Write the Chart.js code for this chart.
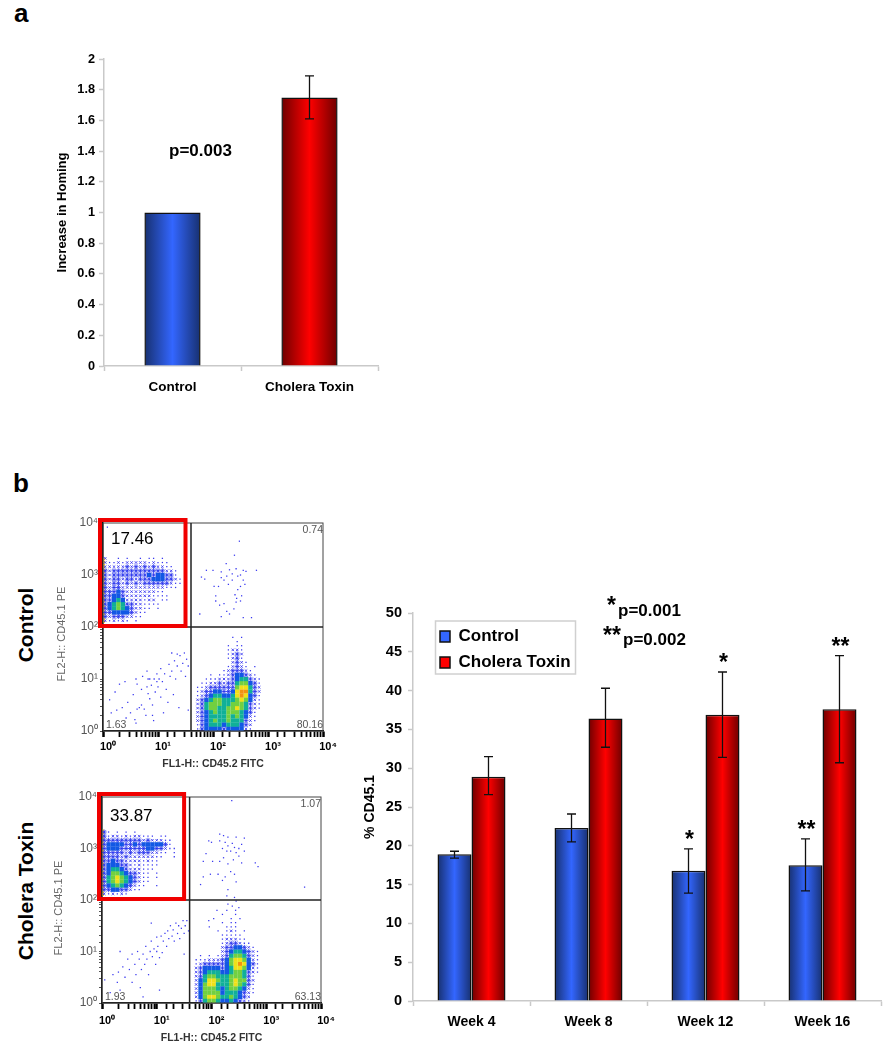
<!DOCTYPE html>
<html>
<head>
<meta charset="utf-8">
<script src="https://cdn.jsdelivr.net/npm/chart.js@4/dist/chart.umd.js"></script>
<style>
html, body { margin: 0; padding: 0; background: #fff; }
#page { position: relative; width: 891px; height: 1050px; overflow: hidden; font-family: "Liberation Sans", Arial, sans-serif; color: #000; }
canvas { position: absolute; }
.lab { position: absolute; white-space: nowrap; font-weight: bold; line-height: 1; }
.side { position: absolute; white-space: nowrap; font-weight: bold; font-size: 21px; line-height: 1; transform: translate(-50%, -50%) rotate(-90deg); }
.fl2 { font-weight: normal; font-size: 11px; color: #666; }
</style>
</head>
<body>
<div id="page">
  <canvas id="chartA" width="342" height="370" style="left:40px;top:40px"></canvas>
  <canvas id="flowControl" width="291" height="270" style="left:50px;top:505px"></canvas>
  <canvas id="flowToxin" width="291" height="270" style="left:48px;top:779px"></canvas>
  <canvas id="chartB" width="545" height="450" style="left:340px;top:595px"></canvas>

  <div class="lab" style="left:14px;top:0px;font-size:26px">a</div>
  <div class="lab" style="left:13px;top:470px;font-size:26px">b</div>
  <div class="side" style="left:25px;top:625px">Control</div>
  <div class="side" style="left:25px;top:891px">Cholera Toxin</div>
  <div class="side fl2" style="left:61px;top:634px">FL2-H:: CD45.1 PE</div>
  <div class="side fl2" style="left:58px;top:908px">FL2-H:: CD45.1 PE</div>
  <div class="lab" style="left:169px;top:142px;font-size:17px">p=0.003</div>
  <div class="lab" style="left:607px;top:594px;font-size:23px">*</div>
  <div class="lab" style="left:618px;top:602px;font-size:17px">p=0.001</div>
  <div class="lab" style="left:603px;top:624px;font-size:23px">**</div>
  <div class="lab" style="left:623px;top:631px;font-size:17px">p=0.002</div>
</div>

<script>
// panel a
const homingLabels = ['Control', 'Cholera Toxin'];
const homingValues = [1, 1.75];
const homingLow = [null, 1.61];
const homingHigh = [null, 1.89];

// panel b bars
const weekLabels = ['Week 4', 'Week 8', 'Week 12', 'Week 16'];
const controlValues = [18.9, 22.3, 16.8, 17.5];
const controlLow = [18.4, 20.5, 13.9, 14.2];
const controlHigh = [19.3, 24.1, 19.6, 20.9];
const toxinValues = [28.9, 36.4, 36.9, 37.6];
const toxinLow = [26.6, 32.7, 31.4, 30.7];
const toxinHigh = [31.5, 40.3, 42.4, 44.5];
const controlStars = ['', '', '*', '**'];
const toxinStars = ['', '', '*', '**'];

// flow plots: density, 0 = empty .. 8 = hottest.
// each row is one 0.08 decade step, top row first
const controlGatedRows = [
  '200101001011010000',
  '211212222212111000',
  '222223232323221100',
  '323333333333332210',
  '323333333343443310',
  '323323323334443321',
  '323323232333333211',
  '323322222222221110',
  '333432222222110000',
  '334432222221111000',
  '334542222122011000',
  '345653322111100000',
  '345654322110100000',
  '334444321100000000',
  '323332211000000000',
  '212121010000000000'
];
const controlMainRows = [
  '000000001010000',
  '000000000100000',
  '000000010110000',
  '000000012210000',
  '000000012320000',
  '000000012310000',
  '000000002321000',
  '000000012321010',
  '000000123332100',
  '000101123443210',
  '001112223455321',
  '011223233566431',
  '112333333677532',
  '123344334788532',
  '123455445787431',
  '234566555676421',
  '235666556665321',
  '235665566765321',
  '234565566654310',
  '234555565654210',
  '234565565553210',
  '134555455543200',
  '134444344442100'
];
const toxinGatedRows = [
  '310101010000000000',
  '312212122111011000',
  '333333333232221100',
  '344443343444443100',
  '344433333344332110',
  '333332323332211010',
  '333323222222110010',
  '334332222121100000',
  '344433212111100000',
  '345543222111000000',
  '346654332110100000',
  '356765432110100000',
  '356765432110000000',
  '345654321100100000',
  '334433211000000000',
  '212121000000000000'
];
const toxinMainRows = [
  '000000010100000',
  '000000100100000',
  '000010001010000',
  '000000101100000',
  '000100011100000',
  '000001012101000',
  '000000111110000',
  '000000122211000',
  '000000123321100',
  '000000233443210',
  '000000234554321',
  '010101235665321',
  '111222346776421',
  '123333346787431',
  '234444345776421',
  '234555445665321',
  '235665556665310',
  '245776556766320',
  '246775556765310',
  '246665456654210',
  '246666455543210',
  '246776556543200',
  '135665445432100'
];

// lone events, [log10 FL1, log10 FL2]
const controlSparse = [
  [2.48,3.65],[2.39,3.38],[2.24,3.22],[1.88,3.09],[2.0,3.09],[2.15,3.06],[2.42,3.12],[2.55,3.09],[2.6,3.07],[2.79,3.09],
  [2.3,3.1],[2.35,3.02],[2.25,2.98],[2.45,2.98],[2.5,3.0],[1.79,2.96],[1.85,2.92],[2.15,2.95],[2.2,2.9],[2.35,2.9],
  [2.55,2.9],[2.58,2.82],[2.1,2.78],[2.02,2.78],[2.28,2.82],[2.45,2.72],[2.5,2.78],[2.52,2.6],[2.4,2.62],[2.43,2.55],
  [2.5,2.5],[2.2,2.45],[2.12,2.42],[2.05,2.6],[2.05,2.5],[2.3,2.25],[2.25,2.3],[2.15,2.2],[2.55,2.18],[2.7,2.18],
  [1.76,2.25],[2.38,2.35],[2.42,2.48],[0.08,3.92],
  [.15,.35],[.22,.75],[.35,.45],[.4,.95],[.45,.55],[.5,.35],[.55,.7],[.58,.22],[.62,.42],[.66,.45],
  [.7,.5],[.75,.42],[.78,.3],[.8,.85],[.85,.62],[.9,.5],[.92,.2],[.95,.75],[.98,.95],[.6,1.0],
  [.62,.9],[.72,1.05],[.8,1.15],[.85,1.0],[.9,.3],[1.0,.85],[1.02,1.0],[1.05,.65],[.82,1.0],[.82,.72],
  [.88,.88],[.93,1.0],[.98,1.1],[1.05,1.2],[1.08,.95],[1.12,1.1],[1.15,.8],[1.18,.55],[1.2,1.28],[1.22,1.05],
  [1.25,1.15],[1.28,.7],[1.3,1.35],[1.32,1.0],[1.35,1.25],[1.38,.45],[1.4,1.45],[1.42,1.15],[1.45,1.3],[1.48,1.5],
  [1.5,1.05],[1.52,1.38],[1.55,1.25],[1.35,1.48],[1.25,1.5],[.3,.9],[.25,.4],[.12,.6],[.42,.25],[.7,.8],
  [1.1,.35],[.6,.15],[1.55,.4]
];
const toxinSparse = [
  [2.37,3.93],[2.15,3.28],[2.22,3.25],[2.3,3.22],[2.45,3.22],[2.6,3.2],[1.95,3.15],[2.0,3.12],[2.15,3.15],[2.25,3.12],
  [2.3,3.05],[2.38,3.1],[2.42,3.02],[2.5,3.0],[2.55,3.08],[2.6,2.95],[2.2,3.0],[2.28,2.95],[2.35,2.95],[2.45,2.92],
  [1.9,2.9],[1.85,2.75],[2.02,2.75],[2.15,2.75],[2.22,2.82],[2.3,2.7],[2.4,2.78],[2.5,2.85],[2.55,2.72],[2.8,2.72],
  [2.85,2.65],[2.35,2.55],[2.42,2.5],[2.25,2.45],[2.12,2.5],[1.98,2.5],[1.85,2.45],[1.8,2.3],[2.2,2.38],[2.45,2.35],
  [2.3,2.2],[3.7,2.25],[2.28,2.08],[2.42,2.05],[2.45,1.98],[2.3,1.92],[2.38,1.88],[2.5,1.85],[2.1,1.8],[1.95,1.6],
  [.05,.45],[.15,.2],[.2,.55],[.28,.4],[.3,.6],[.33,.25],[.38,.7],[.42,.5],[.47,.85],[.5,.65],
  [.55,.95],[.55,.4],[.6,.75],[.62,.55],[.65,1.0],[.68,.85],[.7,.3],[.72,.65],[.75,.95],[.78,.75],
  [.8,1.1],[.82,.85],[.85,.55],[.88,1.0],[.9,1.2],[.92,.9],[.95,1.05],[.98,.75],[1.0,1.0],[1.0,1.28],
  [1.02,1.1],[1.05,.88],[1.08,1.3],[1.1,.98],[1.12,1.2],[1.15,1.35],[1.18,1.1],[1.2,1.4],[1.22,1.25],[1.25,1.5],
  [1.28,1.3],[1.3,1.42],[1.32,1.2],[1.35,1.55],[1.38,1.35],[1.4,1.5],[1.42,1.25],[1.45,1.45],[1.48,1.6],[1.5,1.35],
  [1.52,1.5],[1.55,1.6],[1.58,1.4],[.9,1.55],[.33,1.0],[1.5,.95],[1.05,.25],[.75,.12]
];

// pile up against the left axis, log10 FL2
const controlEdge = [2.1,2.15,2.2,2.25,2.3,2.35,2.4,2.45,2.5,2.55,2.6,2.65,2.7,2.75,2.8,2.85,2.9,2.95,3.0,3.05,3.1,3.15,3.2,3.25,3.3];
const toxinEdge = [2.1,2.15,2.2,2.25,2.3,2.35,2.4,2.45,2.5,2.55,2.6,2.65,2.7,2.75,2.8,2.85,2.9,2.95,3.0,3.05,3.1,3.15,3.2,3.25,3.3,3.35];

const controlQuadrants = ['0.74', '1.63', '80.16'];
const toxinQuadrants = ['1.07', '1.93', '63.13'];
const decadeLabels = { 1: '10⁰', 10: '10¹', 100: '10²', 1000: '10³', 10000: '10⁴' };

Chart.defaults.font.family = '"Liberation Sans", Arial, sans-serif';
Chart.defaults.animation = false;
Chart.defaults.responsive = false;
Chart.defaults.plugins.legend.display = false;
Chart.defaults.plugins.tooltip.enabled = false;

const axisGray = '#c9c9c9';

// the side to side shading on the bars
const barShading = {
    id: 'barShading',
    beforeDatasetsDraw (chart) {
        const ctx = chart.ctx;
        chart.data.datasets.forEach((ds, d) => {
            chart.getDatasetMeta(d).data.forEach((bar, i) => {
                const c = ds.shade[i];
                const g = ctx.createLinearGradient(bar.x - bar.width / 2, 0, bar.x + bar.width / 2, 0);
                g.addColorStop(0, c[0]);
                g.addColorStop(0.5, c[1]);
                g.addColorStop(1, c[0]);
                bar.options = Object.assign({}, bar.options, { backgroundColor: g });
            });
        });
    }
};

const errorBars = {
    id: 'errorBars',
    afterDatasetsDraw (chart) {
        const ctx = chart.ctx, y = chart.scales.y;
        ctx.save();
        ctx.strokeStyle = '#111';
        ctx.lineWidth = 1.3;
        chart.data.datasets.forEach((ds, d) => {
            chart.getDatasetMeta(d).data.forEach((bar, i) => {
                if (ds.low[i] === null) return;
                const top = y.getPixelForValue(ds.high[i]), bottom = y.getPixelForValue(ds.low[i]);
                ctx.beginPath();
                ctx.moveTo(bar.x, top); ctx.lineTo(bar.x, bottom);
                ctx.moveTo(bar.x - 4.5, top); ctx.lineTo(bar.x + 4.5, top);
                ctx.moveTo(bar.x - 4.5, bottom); ctx.lineTo(bar.x + 4.5, bottom);
                ctx.stroke();
                if (ds.stars && ds.stars[i]) {
                    ctx.fillStyle = '#000';
                    ctx.font = 'bold 23px "Liberation Sans"';
                    ctx.textAlign = 'center';
                    ctx.fillText(ds.stars[i], bar.x + 1, top - 2);
                }
            });
        });
        ctx.restore();
    }
};

// legend sits inside the plot with a thin box round it
const legendBox = {
    id: 'legendBox',
    afterLayout (chart) {
        const l = chart.legend;
        l.left = 91; l.right = 236; l.top = 24; l.bottom = 200;
    },
    beforeDraw (chart) {
        const ctx = chart.ctx;
        ctx.save();
        ctx.strokeStyle = '#d0d0d0';
        ctx.lineWidth = 1.5;
        ctx.strokeRect(95.5, 26, 140, 53);
        ctx.restore();
    }
};

function barScales (yOpts, yTitle, tickFont, titleFont, titleInset) {
    return {
        x: {
            afterFit: s => { s.height = 44; },
            grid: { drawOnChartArea: false, offset: true, tickLength: 5, tickColor: axisGray, tickWidth: 1.5 },
            border: { color: axisGray, width: 1.5 },
            ticks: { color: '#000', font: { size: tickFont, weight: 'bold' }, padding: 8, maxRotation: 0 }
        },
        y: Object.assign({
            afterFit: s => { s.width = yOpts.axisWidth; },
            grid: { drawOnChartArea: false, tickLength: 5, tickColor: axisGray, tickWidth: 1.5 },
            border: { color: axisGray, width: 1.5 },
            title: { display: true, text: yTitle, color: '#000', font: { size: titleFont, weight: 'bold' }, padding: { top: titleInset, bottom: 0 } }
        }, yOpts.scale)
    };
}

new Chart(document.getElementById('chartA'), {
    type: 'bar',
    data: {
        labels: homingLabels,
        datasets: [{
            data: homingValues,
            low: homingLow,
            high: homingHigh,
            shade: [['#17306f', '#3366ff'], ['#6d0000', '#ff0000']],
            backgroundColor: ['#3366ff', '#ff0000'],
            borderColor: '#111',
            borderWidth: 1.5,
            barPercentage: 0.41,
            categoryPercentage: 1
        }]
    },
    options: {
        layout: { padding: { top: 19, right: 4 } },
        scales: barScales({
            axisWidth: 64,
            scale: {
                min: 0, max: 2,
                ticks: { stepSize: 0.2, color: '#000', font: { size: 12.7, weight: 'bold' }, padding: 4,
                    callback: v => String(+v.toFixed(1)) }
            }
        }, 'Increase in Homing', 13.5, 13, 15)
    },
    plugins: [barShading, errorBars]
});

new Chart(document.getElementById('chartB'), {
    type: 'bar',
    data: {
        labels: weekLabels,
        datasets: [{
            label: 'Control',
            data: controlValues,
            low: controlLow,
            high: controlHigh,
            stars: controlStars,
            shade: weekLabels.map(() => ['#17306f', '#3366ff']),
            backgroundColor: '#3366ff',
            borderColor: '#111',
            borderWidth: 1.5,
            barPercentage: 1,
            categoryPercentage: 0.581
        }, {
            label: 'Cholera Toxin',
            data: toxinValues,
            low: toxinLow,
            high: toxinHigh,
            stars: toxinStars,
            shade: weekLabels.map(() => ['#6d0000', '#ff0000']),
            backgroundColor: '#ff0000',
            borderColor: '#111',
            borderWidth: 1.5,
            barPercentage: 1,
            categoryPercentage: 0.581
        }]
    },
    options: {
        layout: { padding: { top: 18, right: 4 } },
        scales: barScales({
            axisWidth: 73,
            scale: {
                min: 0, max: 50,
                ticks: { stepSize: 5, color: '#000', font: { size: 14.5, weight: 'bold' }, padding: 6 }
            }
        }, '% CD45.1', 14, 14, 22),
        plugins: {
            legend: {
                display: true,
                position: 'chartArea',
                align: 'start',
                labels: { boxWidth: 10, boxHeight: 11, padding: 9, color: '#000', font: { size: 17, weight: 'bold' } }
            }
        }
    },
    plugins: [barShading, errorBars, legendBox]
});

// flow plots, low levels are open glyphs so they read as speckle
const levelColors = ['', '#3a3af0', '#2a2af0', '#2430ee', '#1258e4', '#10b098', '#72d040', '#f0e018', '#f29212'];
const levelGlyph = ['', 'rect', 'crossRot', 'star', 'rect', 'rect', 'rect', 'rect', 'rect'];
const levelRadius = [0, 0.9, 1.8, 2.5, 3.1, 3.1, 3.1, 3.1, 3.1];
const levelStroke = [0, 0, 0.8, 0.8, 0, 0, 0, 0, 0];

function addCells (levels, rows, firstX, topY) {
    rows.forEach((row, r) => {
        row.split('').forEach((ch, c) => {
            const n = +ch;
            if (n) levels[n].push({ x: 10 ** (firstX + c * 0.08), y: 10 ** (topY - r * 0.08) });
        });
    });
}

const flowDecor = {
    id: 'flowDecor',
    afterDatasetsDraw (chart) {
        const o = chart.options.plugins.flowDecor;
        const ctx = chart.ctx, a = chart.chartArea, sx = chart.scales.x, sy = chart.scales.y;
        const qx = sx.getPixelForValue(o.splitX), qy = sy.getPixelForValue(100);
        ctx.save();
        ctx.strokeStyle = '#444';
        ctx.lineWidth = 1;
        ctx.strokeRect(a.left, a.top, a.right - a.left, a.bottom - a.top);
        ctx.strokeStyle = '#222';
        ctx.lineWidth = 1.5;
        ctx.beginPath();
        ctx.moveTo(qx, a.top); ctx.lineTo(qx, a.bottom);
        ctx.moveTo(a.left, qy); ctx.lineTo(a.right, qy);
        ctx.stroke();
        ctx.strokeStyle = '#f00000';
        ctx.lineWidth = 4;
        ctx.strokeRect(a.left - 3, a.top - 3, qx - a.left - 2.5, qy - a.top + 2);
        ctx.fillStyle = '#555';
        ctx.font = '10.5px "Liberation Sans"';
        ctx.textAlign = 'right';
        ctx.fillText(o.quadrants[0], a.right, a.top + 10);
        ctx.fillText(o.quadrants[2], a.right, a.bottom - 3);
        ctx.textAlign = 'left';
        ctx.fillText(o.quadrants[1], a.left + 3, a.bottom - 3);
        ctx.fillStyle = '#000';
        ctx.font = '17px "Liberation Sans"';
        ctx.fillText(o.gateLabel, a.left + 8, a.top + o.gateDy);
        ctx.restore();
    }
};

function flowPlot (id, axisH, yAxisW, tickPad, gated, main, sparse, edge, quadrants, gateLabel, gateDy) {
    const levels = levelColors.map(() => []);
    addCells(levels, gated, 0.04, 3.32);
    addCells(levels, main, 1.72, 1.80);
    const datasets = levels.slice(1).map((pts, i) => ({
        data: pts,
        pointStyle: levelGlyph[i + 1],
        pointRadius: levelRadius[i + 1],
        pointBackgroundColor: levelColors[i + 1],
        pointBorderColor: levelColors[i + 1],
        pointBorderWidth: levelStroke[i + 1]
    }));
    datasets.push({
        data: sparse.map(p => ({ x: 10 ** p[0], y: 10 ** p[1] })),
        pointStyle: 'rect',
        pointRadius: 0.9,
        pointBackgroundColor: '#3a3af0',
        pointBorderWidth: 0
    });
    datasets.push({
        data: edge.map(v => ({ x: 1.045, y: 10 ** v })),
        pointStyle: 'rect',
        pointRadius: 1.4,
        pointBackgroundColor: '#eec020',
        pointBorderWidth: 0
    });
    return new Chart(document.getElementById(id), {
        type: 'scatter',
        data: { datasets },
        options: {
            layout: { padding: { top: 18, right: 18 } },
            scales: {
                x: {
                    type: 'logarithmic', min: 1, max: 10000,
                    afterFit: s => { s.height = axisH; },
                    grid: { drawOnChartArea: false, tickLength: 6, tickColor: '#000', tickWidth: c => (c.tick && c.tick.major ? 2.5 : 1.8) },
                    border: { color: '#000', width: 1.5 },
                    ticks: { autoSkip: false, maxRotation: 0, labelOffset: 5, padding: tickPad, color: '#000', font: { size: 11, weight: 'bold' },
                        callback: v => decadeLabels[v] || '' },
                    title: { display: true, text: 'FL1-H:: CD45.2 FITC', color: '#333', font: { size: 10.5, weight: 'bold' }, padding: { top: 0, bottom: 5 } }
                },
                y: {
                    type: 'logarithmic', min: 1, max: 10000,
                    afterFit: s => { s.width = yAxisW; },
                    grid: { drawOnChartArea: false, tickLength: 3, tickColor: '#555', tickWidth: 1 },
                    border: { color: '#000', width: 1.5 },
                    ticks: { autoSkip: false, padding: 2, color: '#555', font: { size: 12 },
                        callback: v => decadeLabels[v] || '' }
                }
            },
            plugins: { flowDecor: { splitX: 10 ** 1.6, quadrants, gateLabel, gateDy } }
        },
        plugins: [flowDecor]
    });
}

flowPlot('flowControl', 44, 53, 3, controlGatedRows, controlMainRows, controlSparse, controlEdge, controlQuadrants, '17.46', 21);
flowPlot('flowToxin', 46, 54, 5, toxinGatedRows, toxinMainRows, toxinSparse, toxinEdge, toxinQuadrants, '33.87', 24);
</script>
</body>
</html>
